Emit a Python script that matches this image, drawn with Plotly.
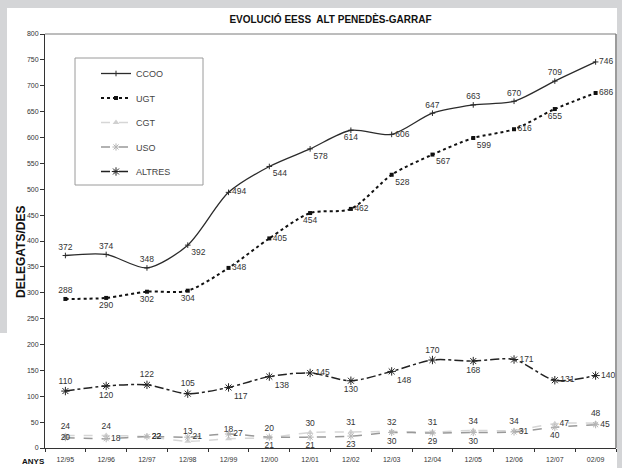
import plotly.graph_objects as go

# ---- data ----
periods = ["12/95", "12/96", "12/97", "12/98", "12/99", "12/00", "12/01",
           "12/02", "12/03", "12/04", "12/05", "12/06", "12/07", "02/09"]
ccoo = [372, 374, 348, 392, 494, 544, 578, 614, 606, 647, 663, 670, 709, 746]
ugt = [288, 290, 302, 304, 348, 405, 454, 462, 528, 567, 599, 616, 655, 686]
cgt = [24, 24, 22, 13, 18, 20, 30, 31, 32, 31, 34, 34, 47, 48]
uso = [20, 18, 22, 21, 27, 21, 21, 23, 30, 29, 30, 31, 40, 45]
altres = [110, 120, 122, 105, 117, 138, 145, 130, 148, 170, 168, 171, 131, 140]

# label placements
pos_ccoo = ["top center", "top center", "top center", "bottom right", "middle right",
            "bottom right", "bottom right", "bottom center", "middle right", "top center",
            "top center", "top center", "top center", "middle right"]
pos_ugt = ["top center", "bottom center", "bottom center", "bottom center", "middle right",
           "middle right", "bottom center", "middle right", "bottom right", "bottom right",
           "bottom right", "middle right", "bottom center", "middle right"]
pos_altres = ["top center", "bottom center", "top center", "top center", "bottom right",
              "bottom right", "middle right", "bottom center", "bottom right", "top center",
              "bottom center", "middle right", "middle right", "middle right"]
pos_cgt = ["top center", "top center", "middle right", "top center", "top center",
           "top center", "top center", "top center", "top center", "top center",
           "top center", "top center", "middle right", "top center"]
pos_uso = ["middle center", "middle right", "middle right", "middle right", "middle right",
           "bottom center", "bottom center", "bottom center", "bottom center", "bottom center",
           "bottom center", "middle right", "bottom center", "middle right"]

FONT = "Liberation Sans, Arial, sans-serif"
LBL = dict(family=FONT, size=8.5, color="#333333")

fig = go.Figure()

def add(name, vals, pos, line, marker, group):
    fig.add_trace(go.Scatter(
        x=periods, y=vals, name=name, mode="lines+markers+text",
        text=[str(v) for v in vals], textposition=pos, textfont=LBL,
        line=dict(shape="spline", smoothing=0.8, **line), marker=marker,
        legendgroup=group, cliponaxis=False,
    ))

add("CCOO", ccoo, pos_ccoo, dict(color="#2b2b2b", width=1.3),
    dict(symbol="cross-thin", size=4, color="#2b2b2b", line=dict(width=1, color="#2b2b2b")), "g1")
add("UGT", ugt, pos_ugt, dict(color="#111111", width=2, dash="dot"),
    dict(symbol="square", size=4, color="#111111"), "g2")
add("CGT", cgt, pos_cgt, dict(color="#d6d6d6", width=1.5, dash="dash"),
    dict(symbol="triangle-up", size=6, color="#d0d0d0"), "g3")
add("USO", uso, pos_uso, dict(color="#999999", width=1.5, dash="dash"),
    dict(symbol="asterisk-open", size=6, color="#b5b5b5", line=dict(width=1, color="#b5b5b5")), "g4")
add("ALTRES", altres, pos_altres, dict(color="#222222", width=1.5, dash="dashdot"),
    dict(symbol="asterisk-open", size=7, color="#222222", line=dict(width=1, color="#222222")), "g5")

# pixel -> paper helpers (plot area: x 45..616, y 34..448)
def px(x):
    return (x - 45) / 571.0

def py(y):
    return (448 - y) / 414.0

shapes = [
    dict(type="rect", xref="paper", yref="paper", layer="below",
         x0=px(7), x1=px(617), y0=py(470), y1=py(8), fillcolor="white", line=dict(width=0)),
    dict(type="rect", xref="paper", yref="paper", layer="below",
         x0=px(-2), x1=px(8), y0=py(470), y1=py(333), fillcolor="white", line=dict(width=0)),
    dict(type="rect", xref="paper", yref="paper", layer="above",
         x0=px(75), x1=px(203), y0=py(185), y1=py(58), fillcolor="rgba(0,0,0,0)",
         line=dict(width=1, color="#9a9a9a")),
    dict(type="line", xref="paper", yref="paper", x0=0, x1=1, y0=1, y1=1,
         line=dict(color="#7a7a7a", width=1)),
    dict(type="line", xref="paper", yref="paper", x0=1, x1=1, y0=0, y1=1,
         line=dict(color="#7a7a7a", width=1.5)),
]

annotations = [
    dict(text="<b>DELEGATS/DES</b>", x=px(21), y=py(252), xref="paper", yref="paper",
         xanchor="center", yanchor="middle",
         textangle=-90, showarrow=False, font=dict(family=FONT, size=12, color="#111111")),
    dict(text="<b>ANYS</b>", x=px(33), y=py(462), xref="paper", yref="paper",
         xanchor="center", yanchor="middle",
         showarrow=False, font=dict(family=FONT, size=8, color="#111111")),
]

fig.update_layout(
    width=622, height=468,
    margin=dict(l=45, r=6, t=34, b=20),
    paper_bgcolor="#d4d5d7", plot_bgcolor="white",
    font=dict(family=FONT, size=7, color="#333333"),
    title=dict(text="<b>EVOLUCIÓ EESS  ALT PENEDÈS-GARRAF</b>", x=0.5, xref="paper",
               y=1 - 19 / 468, yanchor="middle", font=dict(family=FONT, size=10, color="#111111")),
    showlegend=True,
    legend=dict(x=px(96), y=py(59), xanchor="left", yanchor="top",
                bgcolor="rgba(0,0,0,0)", borderwidth=0, traceorder="grouped",
                tracegroupgap=5.5, font=dict(family=FONT, size=9, color="#444444")),
    shapes=shapes,
    annotations=annotations,
    xaxis=dict(type="category", range=[-0.5, 13.5], showgrid=False, zeroline=False,
               showline=True, linecolor="#333333", linewidth=1, mirror=False,
               ticks="outside", tickson="boundaries", ticklen=3, tickcolor="#333333",
               ticklabelstandoff=5,
               tickfont=dict(family=FONT, size=7, color="#333333")),
    yaxis=dict(range=[0, 800], dtick=50, showgrid=False, zeroline=False,
               showline=True, linecolor="#333333", linewidth=1,
               ticks="outside", ticklen=4, tickcolor="#333333",
               tickfont=dict(family=FONT, size=7, color="#333333")),
)

fig.write_html("out.html", config={"displayModeBar": False},
               post_script="document.body.style.margin='0';document.body.style.padding='0';")
